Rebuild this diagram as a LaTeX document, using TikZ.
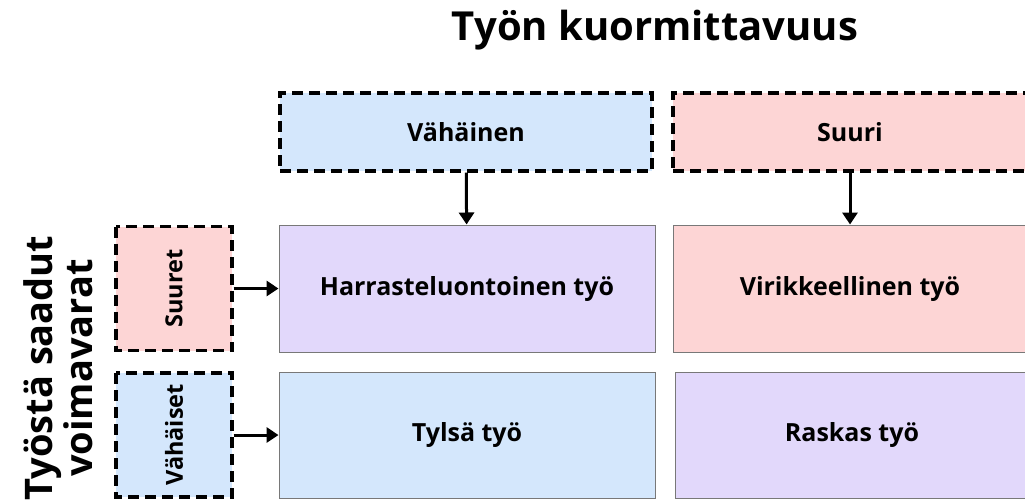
\documentclass[tikz,border=0pt]{standalone}
\usepackage{fontspec}
\setmainfont{Open Sans}
\usetikzlibrary{arrows.meta, positioning}
\definecolor{lowblue}  {RGB}{212, 231, 252}
\definecolor{highpink} {RGB}{253, 213, 213}
\definecolor{mixlilac} {RGB}{226, 216, 251}
\definecolor{edgegray} {RGB}{120, 120, 120}

\tikzset{
	headbox/.style={draw=black, dash pattern=on 11pt off 6pt, line width=3.2pt,
		inner sep=0pt, minimum height=78pt, font=\bfseries\fontsize{25}{30}\selectfont},
	sidebox/.style={draw=black, dash pattern=on 11pt off 6pt, line width=3.2pt,
		inner sep=0pt, rotate=90, minimum width=124pt, minimum height=116pt,
		font=\bfseries\fontsize{23.5}{28}\selectfont},
	cellbox/.style={draw=edgegray, line width=1pt, inner sep=0pt,
		font=\bfseries\fontsize{25}{30}\selectfont},
	link/.style={-{Triangle[length=12pt,width=15pt]}, line width=3pt}
}

\begin{document}
\begin{tikzpicture}[x=1pt, y=-1pt]
	\clip (0,0) rectangle (1025,499);
	\fill[white] (0,0) rectangle (1025,499);
	% title and axis label
	\node[font=\bfseries\fontsize{40}{46}\selectfont] (load) at (655,30) {Työn kuormittavuus};
	\node[font=\bfseries\fontsize{38}{40}\selectfont, rotate=90, align=center] (res) at (58,368) {Työstä saadut\\voimavarat};
	% column heads
	\node[headbox, fill=lowblue, minimum width=372pt] (low) at (466,132) {Vähäinen};
	\node[headbox, fill=highpink, minimum width=354pt] (high) at (850,132) {Suuri};
	% row heads
	\node[sidebox, fill=highpink] (big) at (174,288.5) {Suuret};
	\node[sidebox, fill=lowblue] (small) at (174,435) {Vähäiset};
	% cells
	\node[cellbox, fill=mixlilac, minimum width=376pt, minimum height=127pt] (hobby) at (467,288.5) {Harrasteluontoinen työ};
	\node[cellbox, fill=highpink, minimum width=354pt, minimum height=127pt] (spark) at (850,288.5) {Virikkeellinen työ};
	\node[cellbox, fill=lowblue, minimum width=376pt, minimum height=126pt] (dull) at (467,435) {Tylsä työ};
	\node[cellbox, fill=mixlilac, minimum width=354pt, minimum height=126pt] (heavy) at (852,435) {Raskas työ};
	% arrows
	\draw[link] (low) -- (hobby);
	\draw[link] (high) -- (spark);
	\draw[link] (big) -- (hobby);
	\draw[link] (small) -- (dull);
\end{tikzpicture}
\end{document}
